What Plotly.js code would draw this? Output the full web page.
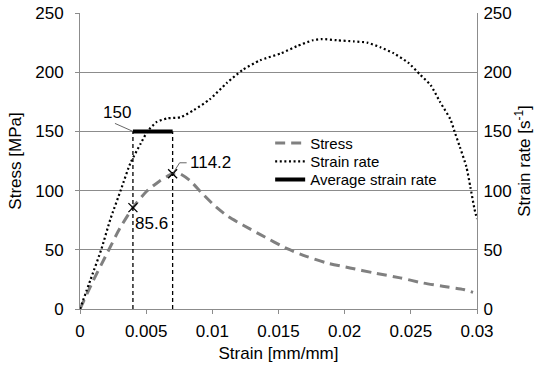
<!DOCTYPE html>
<html>
<head>
<meta charset="utf-8">
<script src="https://cdn.plot.ly/plotly-3.0.1.min.js"></script>
<style>html,body{margin:0;padding:0;background:#fff;}#chart{width:537px;height:367px;}</style>
</head>
<body>
<div id="chart"></div>
<script>
// Stress curve [MPa]
var stressStrain = [0, 0.001, 0.002, 0.003, 0.004, 0.005, 0.006, 0.007, 0.0075, 0.0083, 0.0092, 0.0101, 0.0112, 0.0123, 0.0136, 0.0157, 0.0171, 0.0186, 0.0204, 0.0222, 0.0242, 0.0259, 0.0274, 0.029, 0.0297];
var stressVals   = [0, 24, 46, 68, 85.6, 99, 108, 114.2, 114.5, 108.6, 98, 88, 78, 71, 63, 50.7, 44.5, 39, 34.7, 30.5, 26.3, 22, 19.2, 16.4, 14];
// Strain rate curve [1/s]
var rateStrain = [0, 0.0008, 0.0016, 0.0023, 0.0031, 0.0038, 0.0046, 0.0051, 0.0058, 0.0066, 0.0076, 0.0086, 0.0098, 0.0111, 0.0123, 0.0136, 0.0152, 0.0164, 0.0176, 0.0183, 0.0194, 0.0207, 0.0217, 0.0227, 0.0237, 0.0248, 0.0257, 0.0265, 0.0272, 0.028, 0.0283, 0.0287, 0.0292, 0.0295, 0.0298, 0.03];
var rateVals   = [0, 25, 50, 76, 101, 123, 140, 150, 158, 161, 162, 168, 177, 191, 202, 210, 216, 222, 227, 228, 227, 226, 225, 221, 216, 208, 198, 189, 175, 160, 150, 137, 120, 103, 85, 76];
// Average strain rate window and marked points
var markStrain = [0.004, 0.007];
var markStress = [85.6, 114.2];
var avgRate = 150;
// Axis ticks
var xTicks = [0, 0.005, 0.01, 0.015, 0.02, 0.025, 0.03];
var xTickText = ['0', '0.005', '0.01', '0.015', '0.02', '0.025', '0.03'];
var yTicks = [0, 50, 100, 150, 200, 250];

var FONT = 'Liberation Sans, Arial, sans-serif';
var GRID = '#8c8c8c';

var vx = [], vy = [];
markStrain.forEach(function (s) { vx.push(s, s, null); vy.push(0, avgRate, null); });

var traces = [
  {x: rateStrain, y: rateVals, yaxis: 'y2', name: 'Strain rate', mode: 'lines', legend: 'legend2',
   line: {color: '#000', width: 2.2, dash: '2px,2.6px', shape: 'spline', smoothing: 0.6}},
  {x: stressStrain, y: stressVals, name: 'Stress', mode: 'lines', legend: 'legend',
   line: {color: '#808080', width: 3, dash: '10px,6px', shape: 'spline', smoothing: 0.6}},
  {x: vx, y: vy, mode: 'lines', showlegend: false, hoverinfo: 'skip',
   line: {color: '#000', width: 1.3, dash: '4px,3px'}},
  {x: markStrain, y: [avgRate, avgRate], name: 'Average strain rate', mode: 'lines', legend: 'legend3',
   line: {color: '#000', width: 4}},
  {x: markStrain, y: markStress, mode: 'markers', showlegend: false,
   marker: {symbol: 'x-thin-open', size: 9, color: '#000', line: {color: '#000', width: 1.3}}}
];

function leg(yc) {
  return {x: 0.479, y: yc, xanchor: 'left', yanchor: 'middle', bgcolor: 'rgba(0,0,0,0)',
          font: {family: FONT, size: 15, color: '#000'}, itemwidth: 30};
}

var annFont = {family: FONT, size: 17, color: '#000'};
var leader = {type: 'line', xref: 'x', yref: 'y', xsizemode: 'pixel', ysizemode: 'pixel',
              line: {color: '#404040', width: 0.8}};
var layout = {
  width: 537, height: 367,
  margin: {l: 80, r: 60, t: 13, b: 58},
  paper_bgcolor: '#fff', plot_bgcolor: '#fff',
  font: {family: FONT, size: 17, color: '#000'},
  showlegend: true,
  legend: leg(0.560), legend2: leg(0.498), legend3: leg(0.437),
  xaxis: {range: [0, 0.03], tickvals: xTicks, ticktext: xTickText, showgrid: false, zeroline: false,
          showline: true, linecolor: GRID, linewidth: 1, ticks: 'outside', ticklen: 4, tickcolor: GRID,
          ticklabelstandoff: 3, tickfont: {size: 17},
          title: {text: 'Strain [mm/mm]', font: {size: 17}, standoff: 6}, automargin: false},
  yaxis: {range: [0, 250], tickvals: yTicks, showgrid: true, gridcolor: GRID, gridwidth: 1, zeroline: false,
          showline: true, linecolor: GRID, linewidth: 1, ticks: 'outside', ticklen: 4, tickcolor: GRID,
          ticklabelstandoff: 8, tickfont: {size: 17},
          title: {text: 'Stress [MPa]', font: {size: 17}, standoff: 9}, automargin: false},
  yaxis2: {range: [0, 250], tickvals: yTicks, overlaying: 'y', side: 'right', showgrid: false, zeroline: false,
           showline: true, linecolor: GRID, linewidth: 1, ticks: '', ticklabelstandoff: 2, tickfont: {size: 17},
           title: {text: 'Strain rate [s<sup>-1</sup>]', font: {size: 17}, standoff: 4}, automargin: false},
  shapes: [
    Object.assign({}, leader, {xanchor: markStrain[0], yanchor: avgRate, x0: 0, y0: 0, x1: -18, y1: 8}),
    Object.assign({}, leader, {xanchor: markStrain[1], yanchor: markStress[1], x0: 0, y0: 0, x1: 7, y1: 11}),
    Object.assign({}, leader, {xanchor: markStrain[1], yanchor: markStress[1], x0: 7, y0: 11, x1: 14, y1: 11})
  ],
  annotations: [
    {x: markStrain[0], y: avgRate, text: String(avgRate), showarrow: false, font: annFont,
     xshift: -16, yshift: 19},
    {x: markStrain[0], y: markStress[0], text: String(markStress[0]), showarrow: false, font: annFont,
     xanchor: 'left', yshift: -16, xshift: 0},
    {x: markStrain[1], y: markStress[1], text: String(markStress[1]), showarrow: false, font: annFont,
     xanchor: 'left', xshift: 15, yshift: 11}
  ]
};

Plotly.newPlot('chart', traces, layout, {staticPlot: true, displayModeBar: false});
</script>
</body>
</html>
